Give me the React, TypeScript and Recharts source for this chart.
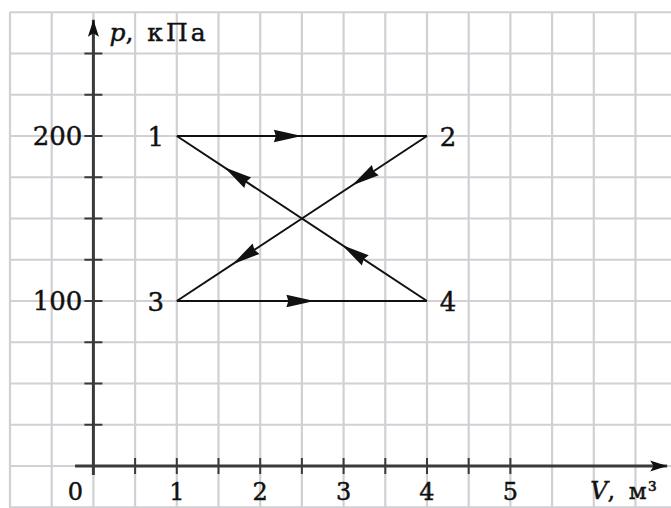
import React from 'react';
import { ComposedChart, Line, Scatter, XAxis, YAxis, ReferenceLine } from 'recharts';

// grid values (data units)
const gridV = [-1, -0.5, 0, 0.5, 1, 1.5, 2, 2.5, 3, 3.5, 4, 4.5, 5, 5.5, 6, 6.5];
const gridP = [-25, 0, 25, 50, 75, 100, 125, 150, 175, 200, 225, 250, 275];
// axis ticks
const xTicks = [0.5, 1, 1.5, 2, 2.5, 3, 3.5, 4, 4.5, 5];
const yTicks = [25, 50, 75, 100, 125, 150, 175, 200, 225, 250];
const xTickLabels = [0, 1, 2, 3, 4, 5];
const yTickLabels = [100, 200];
// axis extents
const xAxisExtent = [-0.22, 6.88];
const yAxisExtent = [-5.5, 270.5];
const xTitle = 'V';
const xUnit = 'м³';
const yTitle = 'p';
const yUnit = 'кПа';
// states of the cycle
const stateNames = ['1', '2', '3', '4'];
const stateV = [1, 4, 1, 4];
const stateP = [200, 200, 100, 100];
const stateLabelSide = [-1, 1, -1, 1];
// processes 1→2, 2→3, 3→4, 4→1
const processFrom = [0, 1, 2, 3];
const processTo = [1, 2, 3, 0];
const arrowTipsV = [[2.5], [3.1, 1.67], [2.65], [2.98, 1.57]];

const INK = '#111';
const AXIS = '#3a3a3a';
const GRID = '#d0d0d5';
const FONT = '"DejaVu Serif", serif';
const TXT = { fontFamily: FONT, fill: INK, stroke: INK, strokeWidth: 0.45 } as const;

function poly(tx: number, ty: number, dx: number, dy: number, L: number, w: number, notch: number, key: string) {
  const nx = -dy, ny = dx;
  const bx = tx - dx * L, by = ty - dy * L;
  const mx = tx - dx * L * notch, my = ty - dy * L * notch;
  const pts = `${tx},${ty} ${bx + nx * w},${by + ny * w} ${mx},${my} ${bx - nx * w},${by - ny * w}`;
  return <polygon key={key} points={pts} fill={INK} />;
}

function makeEndArrowDot(tag: string) {
  let prev: { x: number; y: number } | null = null;
  return (props: any) => {
    const { cx, cy, index, points } = props;
    if (index === 0) {
      prev = { x: cx, y: cy };
      return <g key={tag + 'd0'} />;
    }
    const p0 = points && points[0] ? { x: points[0].x, y: points[0].y } : prev;
    if (!p0) return <g key={tag + 'd1'} />;
    const len = Math.hypot(cx - p0.x, cy - p0.y) || 1;
    const dx = (cx - p0.x) / len, dy = (cy - p0.y) / len;
    return <g key={tag + 'd1'}>{poly(cx, cy, dx, dy, 17, 5.5, 0.8, tag + 'a')}</g>;
  };
}

function makeProcessDot(i: number, v0: number, v1: number) {
  let prev: { x: number; y: number } | null = null;
  return (props: any) => {
    const { cx, cy, index, points } = props;
    if (index === 0) {
      prev = { x: cx, y: cy };
      return <g key={'pd' + i + '0'} />;
    }
    const p0 = points && points[0] ? { x: points[0].x, y: points[0].y } : prev;
    if (!p0) return <g key={'pd' + i + '1'} />;
    const len = Math.hypot(cx - p0.x, cy - p0.y) || 1;
    const dx = (cx - p0.x) / len, dy = (cy - p0.y) / len;
    return (
      <g key={'pd' + i + '1'}>
        {arrowTipsV[i].map((tv, k) => {
          const t = (tv - v0) / (v1 - v0);
          const tx = p0.x + t * (cx - p0.x);
          const ty = p0.y + t * (cy - p0.y);
          return poly(tx, ty, dx, dy, 28, 6.2, 0.93, 'ar' + i + '_' + k);
        })}
      </g>
    );
  };
}

export default function App() {
  const xAxisData = [{ v: xAxisExtent[0], p: 0 }, { v: xAxisExtent[1], p: 0 }];
  const yAxisData = [{ v: 0, p: yAxisExtent[0] }, { v: 0, p: yAxisExtent[1] }];
  return (
    <div style={{ position: 'absolute', left: 0, top: 0, width: 671, height: 508, background: '#fff' }}>
      <ComposedChart width={671} height={508} margin={{ top: 12, left: 10, right: 0, bottom: 0 }}>
        <XAxis type="number" dataKey="v" domain={[-1, 6.926]} allowDataOverflow hide />
        <YAxis type="number" dataKey="p" domain={[-25.45, 275.15]} allowDataOverflow hide />
        {gridV.map((v) => (
          <ReferenceLine key={'gv' + v} x={v} stroke={GRID} strokeWidth={2.2} />
        ))}
        {gridP.map((p) => (
          <ReferenceLine key={'gp' + p} y={p} stroke={GRID} strokeWidth={2.2} />
        ))}
        <Line data={xAxisData} dataKey="p" stroke={AXIS} strokeWidth={3} isAnimationActive={false}
          dot={makeEndArrowDot('xa')} activeDot={false} />
        <Line data={yAxisData} dataKey="p" stroke={AXIS} strokeWidth={3} isAnimationActive={false}
          dot={makeEndArrowDot('ya')} activeDot={false} />
        <Scatter data={xTicks.map((v) => ({ v, p: 0 }))} dataKey="p" isAnimationActive={false}
          shape={(pr: any) => <line x1={pr.cx} x2={pr.cx} y1={pr.cy - 8} y2={pr.cy + 8} stroke={AXIS} strokeWidth={2} />} />
        <Scatter data={yTicks.map((p) => ({ v: 0, p }))} dataKey="p" isAnimationActive={false}
          shape={(pr: any) => <line x1={pr.cx - 9} x2={pr.cx + 9} y1={pr.cy} y2={pr.cy} stroke={AXIS} strokeWidth={2} />} />
        {processFrom.map((f, i) => {
          const t = processTo[i];
          const data = [{ v: stateV[f], p: stateP[f] }, { v: stateV[t], p: stateP[t] }];
          return (
            <Line key={'pr' + i} data={data} dataKey="p" stroke={INK} strokeWidth={2} isAnimationActive={false}
              dot={makeProcessDot(i, stateV[f], stateV[t])} activeDot={false} />
          );
        })}
        <Scatter data={xTickLabels.map((v) => ({ v, p: 0 }))} dataKey="p" isAnimationActive={false}
          shape={(pr: any) => (
            <text x={pr.cx + (pr.payload.v === 0 ? -18 : 0)} y={pr.cy + 34} textAnchor="middle"
              fontSize={24} {...TXT}>{pr.payload.v}</text>
          )} />
        <Scatter data={yTickLabels.map((p) => ({ v: 0, p }))} dataKey="p" isAnimationActive={false}
          shape={(pr: any) => (
            <text x={pr.cx - 11} y={pr.cy + 9} textAnchor="end"
              fontSize={26} {...TXT}>{pr.payload.p}</text>
          )} />
        <Scatter data={stateNames.map((n, i) => ({ v: stateV[i], p: stateP[i], n, s: stateLabelSide[i] }))} dataKey="p"
          isAnimationActive={false}
          shape={(pr: any) => (
            <text x={pr.cx + pr.payload.s * 21} y={pr.cy + 10} textAnchor="middle"
              fontSize={26} {...TXT}>{pr.payload.n}</text>
          )} />
        <Scatter data={[{ v: 0, p: yAxisExtent[1] }]} dataKey="p" isAnimationActive={false}
          shape={(pr: any) => (
            <text x={pr.cx + 16} y={pr.cy + 21} fontSize={25} {...TXT}>
              <tspan fontStyle="italic">{yTitle}</tspan>
              <tspan>{', '}</tspan>
              <tspan dx={6} fontSize={25} letterSpacing={3}>{yUnit}</tspan>
            </text>
          )} />
        <Scatter data={[{ v: xAxisExtent[1], p: 0 }]} dataKey="p" isAnimationActive={false}
          shape={(pr: any) => (
            <text x={pr.cx - 77} y={pr.cy + 33} fontSize={24} {...TXT}>
              <tspan fontStyle="italic">{xTitle}</tspan>
              <tspan>{', '}</tspan>
              <tspan dx={6} fontSize={23} letterSpacing={1}>{xUnit}</tspan>
            </text>
          )} />
      </ComposedChart>
    </div>
  );
}
